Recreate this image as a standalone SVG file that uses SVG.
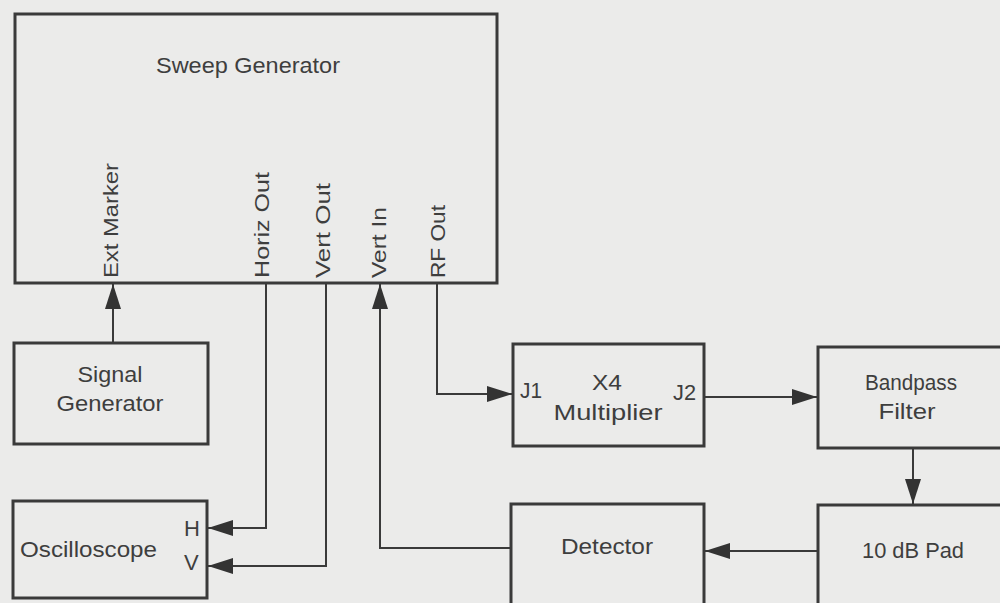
<svg xmlns="http://www.w3.org/2000/svg" width="1000" height="603" viewBox="0 0 1000 603">
<style>
.bg{fill:#ebebea}
.box{fill:none;stroke:#3a3a3a;stroke-width:3}
.wire{fill:none;stroke:#3a3a3a;stroke-width:2}
.t{font-family:"Liberation Sans",Arial,sans-serif;font-size:22px;fill:#3e3e3e}
.v{font-size:21px}
.c{text-anchor:middle}
</style>
<defs>
<marker id="arr" markerUnits="userSpaceOnUse" markerWidth="26" markerHeight="16" refX="25" refY="8" orient="auto">
<path d="M0,0 L25,8 L0,16 Z" fill="#333"/>
</marker>
</defs>
<rect class="bg" x="0" y="0" width="1000" height="603"/>

<g id="sweep-generator">
<rect class="box" x="15" y="14" width="482" height="269"/>
<text class="t" x="156" y="73" textLength="184" lengthAdjust="spacingAndGlyphs">Sweep Generator</text>
<text class="t v" transform="translate(118,278) rotate(-90)" textLength="115" lengthAdjust="spacingAndGlyphs">Ext Marker</text>
<text class="t v" transform="translate(269,278) rotate(-90)" textLength="106" lengthAdjust="spacingAndGlyphs">Horiz Out</text>
<text class="t v" transform="translate(330,278) rotate(-90)" textLength="95" lengthAdjust="spacingAndGlyphs">Vert Out</text>
<text class="t v" transform="translate(386,278) rotate(-90)" textLength="71" lengthAdjust="spacingAndGlyphs">Vert In</text>
<text class="t v" transform="translate(445,278) rotate(-90)" textLength="73" lengthAdjust="spacingAndGlyphs">RF Out</text>
</g>

<g id="signal-generator">
<rect class="box" x="14" y="343" width="194" height="101"/>
<text class="t c" x="110" y="382" textLength="65" lengthAdjust="spacingAndGlyphs">Signal</text>
<text class="t c" x="110" y="411" textLength="107" lengthAdjust="spacingAndGlyphs">Generator</text>
</g>

<g id="oscilloscope">
<rect class="box" x="13" y="501" width="194" height="97"/>
<text class="t" x="20" y="557" textLength="137" lengthAdjust="spacingAndGlyphs">Oscilloscope</text>
<text class="t" x="184" y="536">H</text>
<text class="t" x="184" y="570">V</text>
</g>

<g id="x4-multiplier">
<rect class="box" x="513" y="344" width="191" height="102"/>
<text class="t" x="520" y="398" textLength="22" lengthAdjust="spacingAndGlyphs">J1</text>
<text class="t c" x="607" y="390" textLength="30" lengthAdjust="spacingAndGlyphs">X4</text>
<text class="t c" x="608" y="420" textLength="109" lengthAdjust="spacingAndGlyphs">Multiplier</text>
<text class="t" x="673" y="400" textLength="23" lengthAdjust="spacingAndGlyphs">J2</text>
</g>

<g id="bandpass-filter">
<rect class="box" x="818" y="347" width="200" height="101"/>
<text class="t c" x="911" y="390" textLength="92" lengthAdjust="spacingAndGlyphs">Bandpass</text>
<text class="t c" x="907" y="419" textLength="57" lengthAdjust="spacingAndGlyphs">Filter</text>
</g>

<g id="pad">
<rect class="box" x="818" y="505" width="200" height="110"/>
<text class="t c" x="913" y="558" textLength="102" lengthAdjust="spacingAndGlyphs">10 dB Pad</text>
</g>

<g id="detector">
<rect class="box" x="511" y="504" width="193" height="110"/>
<text class="t c" x="607" y="554" textLength="92" lengthAdjust="spacingAndGlyphs">Detector</text>
</g>

<g id="connectors">
<path class="wire" d="M113,343 V284" marker-end="url(#arr)"/>
<path class="wire" d="M266,283 V528 H208" marker-end="url(#arr)"/>
<path class="wire" d="M326,283 V566 H208" marker-end="url(#arr)"/>
<path class="wire" d="M511,548 H380 V284" marker-end="url(#arr)"/>
<path class="wire" d="M437,283 V394 H512" marker-end="url(#arr)"/>
<path class="wire" d="M704,397 H817" marker-end="url(#arr)"/>
<path class="wire" d="M913,448 V504" marker-end="url(#arr)"/>
<path class="wire" d="M818,551 H705" marker-end="url(#arr)"/>
</g>
</svg>
